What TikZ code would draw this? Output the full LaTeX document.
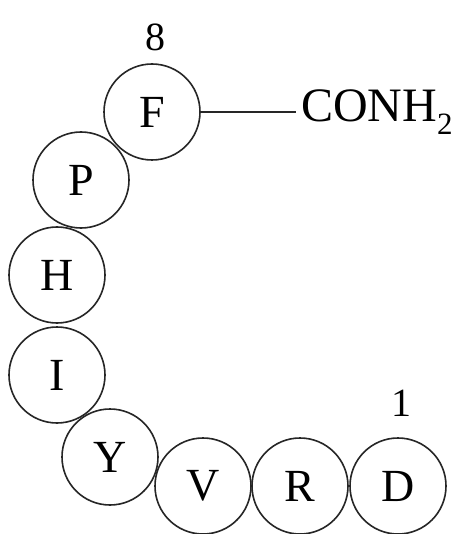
\documentclass[tikz,border=0pt]{standalone}
\usepackage{fontspec}
\setmainfont{Liberation Serif}
\begin{document}
\begin{tikzpicture}[x=1pt,y=-1pt,
  res/.style={circle,draw=black!85,line width=1.6pt,minimum size=96pt,inner sep=0pt,
    font=\fontsize{46}{50}\selectfont},
  num/.style={font=\fontsize{40}{44}\selectfont,inner sep=0pt},
  bond/.style={draw=black!85,line width=1.5pt}]
\useasboundingbox (0,0) rectangle (460,534);
\node[res] (F) at (152,112) {F};
\node[res] (P) at (81,180) {P};
\node[res] (H) at (57,275) {H};
\node[res] (I) at (57,375) {I};
\node[res] (Y) at (110,457) {Y};
\node[res] (V) at (203,486) {V};
\node[res] (R) at (300,486) {R};
\node[res] (D) at (398,486) {D};
\node[num] (n8) at (155,37) {8};
\node[num] (n1) at (401,403) {1};
\node[anchor=base west,inner xsep=5pt,inner ysep=0pt,font=\fontsize{48}{52}\selectfont] (conh) at (296,122) {CONH\raisebox{-13pt}{\fontsize{31}{34}\selectfont 2}};
\draw[bond] (F.east) -- (F.east -| conh.west);
\end{tikzpicture}
\end{document}
